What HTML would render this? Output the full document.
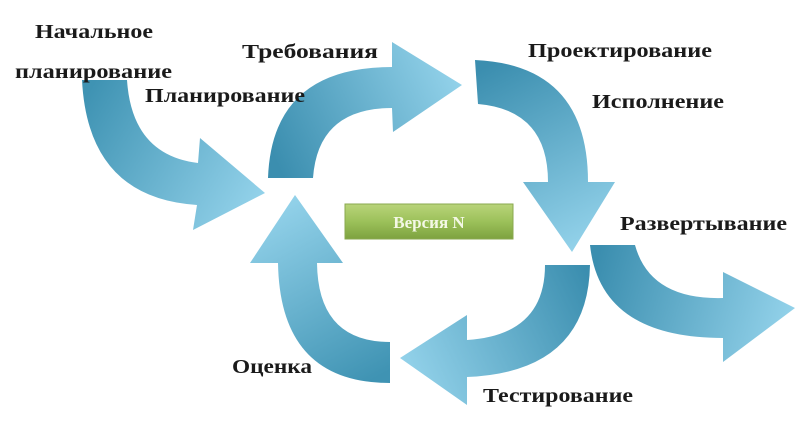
<!DOCTYPE html>
<html><head><meta charset="utf-8"><style>
html,body{margin:0;padding:0;background:#fff;}
svg{display:block;}
text{font-family:"Liberation Serif","DejaVu Serif",serif;font-weight:bold;fill:#1a1a1a;font-size:20px;}
</style></head><body>
<svg width="800" height="424" viewBox="0 0 800 424" xmlns="http://www.w3.org/2000/svg">
<defs>
<linearGradient id="g1" gradientUnits="userSpaceOnUse" x1="90" y1="90" x2="265" y2="193"><stop offset="0" stop-color="#3f93b3"/><stop offset="1" stop-color="#93d2ea"/></linearGradient>
<linearGradient id="g2" gradientUnits="userSpaceOnUse" x1="280" y1="170" x2="462" y2="85"><stop offset="0" stop-color="#3b8eaf"/><stop offset="1" stop-color="#93d2ea"/></linearGradient>
<linearGradient id="g3" gradientUnits="userSpaceOnUse" x1="480" y1="70" x2="572" y2="252"><stop offset="0" stop-color="#3b8eaf"/><stop offset="1" stop-color="#93d2ea"/></linearGradient>
<linearGradient id="g4" gradientUnits="userSpaceOnUse" x1="585" y1="270" x2="400" y2="358"><stop offset="0" stop-color="#3b8eaf"/><stop offset="1" stop-color="#93d2ea"/></linearGradient>
<linearGradient id="g5" gradientUnits="userSpaceOnUse" x1="600" y1="250" x2="795" y2="308"><stop offset="0" stop-color="#3b8eaf"/><stop offset="1" stop-color="#93d2ea"/></linearGradient>
<linearGradient id="g6" gradientUnits="userSpaceOnUse" x1="390" y1="370" x2="295" y2="195"><stop offset="0" stop-color="#3f93b3"/><stop offset="1" stop-color="#93d2ea"/></linearGradient>
<linearGradient id="gg" x1="0" y1="0" x2="0" y2="1"><stop offset="0" stop-color="#b9d47a"/><stop offset="0.5" stop-color="#9cc15a"/><stop offset="1" stop-color="#7da23f"/></linearGradient>
</defs>
<path fill="url(#g1)" d="M82,80 Q88,198 197,205 L193,230 L265,193 L200,138 L198,163 Q132,155 127,80 Z"/>
<path fill="url(#g2)" d="M268,178 Q272,67 392,67 L392,42 L462,85 L393,132 L392,108 Q318,108 313,178 Z"/>
<path fill="url(#g3)" d="M475,60 Q588,65 588,182 L615,182 L572,252 L523,182 L548,182 Q548,110 478,104 Z"/>
<path fill="url(#g4)" d="M590,265 Q588,372 467,377 L467,405 L400,358 L467,315 L467,340 Q545,335 545,265 Z"/>
<path fill="url(#g5)" d="M590,245 Q600,338 723,338 L723,362 L795,308 L723,272 L723,298 Q650,300 635,245 Z"/>
<path fill="url(#g6)" d="M390,383 Q280,383 278,263 L250,263 L295,195 L343,263 L317,263 Q318,342 390,342 Z"/>
<rect x="345" y="204" width="168" height="35" fill="url(#gg)" stroke="#8aa84f" stroke-width="1"/>
<text x="429" y="228" text-anchor="middle" style="fill:#f4f8e6;font-size:17px">Версия N</text>
<text x="35" y="38" textLength="118" lengthAdjust="spacingAndGlyphs">Начальное</text>
<text x="15" y="78" textLength="157" lengthAdjust="spacingAndGlyphs">планирование</text>
<text x="145" y="102" textLength="160" lengthAdjust="spacingAndGlyphs">Планирование</text>
<text x="242" y="58" textLength="136" lengthAdjust="spacingAndGlyphs">Требования</text>
<text x="528" y="57" textLength="184" lengthAdjust="spacingAndGlyphs">Проектирование</text>
<text x="592" y="108" textLength="132" lengthAdjust="spacingAndGlyphs">Исполнение</text>
<text x="620" y="230" textLength="167" lengthAdjust="spacingAndGlyphs">Развертывание</text>
<text x="232" y="373" textLength="80" lengthAdjust="spacingAndGlyphs">Оценка</text>
<text x="483" y="402" textLength="150" lengthAdjust="spacingAndGlyphs">Тестирование</text>
</svg>
</body></html>
